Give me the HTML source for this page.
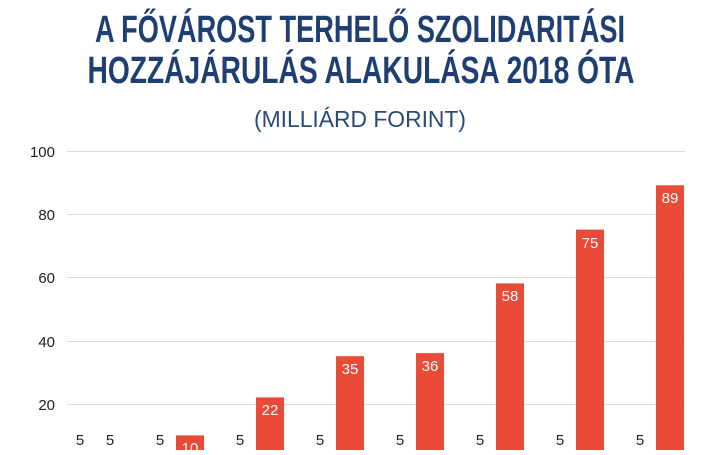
<!DOCTYPE html>
<html><head><meta charset="utf-8"><style>
body{margin:0;width:720px;height:450px;overflow:hidden;background:#fff;font-family:"Liberation Sans",sans-serif}
</style></head><body>
<svg width="720" height="450" xmlns="http://www.w3.org/2000/svg">
<g font-family="Liberation Sans, sans-serif" font-weight="bold" fill="#1f3e72" text-anchor="middle" font-size="38">
<text x="360" y="42" textLength="530" lengthAdjust="spacingAndGlyphs">A FŐVÁROST TERHELŐ SZOLIDARITÁSI</text>
<text x="361" y="83" textLength="547" lengthAdjust="spacingAndGlyphs">HOZZÁJÁRULÁS ALAKULÁSA 2018 ÓTA</text>
</g>
<text x="360" y="127" text-anchor="middle" font-size="23" fill="#2a4a7a" textLength="212" lengthAdjust="spacingAndGlyphs">(MILLIÁRD FORINT)</text>
<g stroke="#dcdcdc" stroke-width="1">
<line x1="67" x2="685" y1="151.5" y2="151.5"/>
<line x1="67" x2="685" y1="214.5" y2="214.5"/>
<line x1="67" x2="685" y1="277.5" y2="277.5"/>
<line x1="67" x2="685" y1="341.5" y2="341.5"/>
<line x1="67" x2="685" y1="404.5" y2="404.5"/>
</g>
<g font-size="15" fill="#222" text-anchor="end">
<text x="55" y="157">100</text><text x="55" y="220">80</text><text x="55" y="283">60</text><text x="55" y="347">40</text><text x="55" y="410">20</text>
</g>
<g fill="#e84b37">
<rect x="176" y="435.4" width="28" height="20"/>
<rect x="256" y="397.4" width="28" height="60"/>
<rect x="336" y="356.2" width="28" height="100"/>
<rect x="416" y="353.1" width="28" height="100"/>
<rect x="496" y="283.4" width="28" height="170"/>
<rect x="576" y="229.6" width="28" height="230"/>
<rect x="656" y="185.3" width="28" height="270"/>
</g>
<g font-size="15" fill="#fff" text-anchor="middle">
<text x="190" y="453">10</text><text x="270" y="415">22</text><text x="350" y="374">35</text><text x="430" y="371">36</text><text x="510" y="301">58</text><text x="590" y="248">75</text><text x="670" y="203">89</text>
</g>
<g font-size="15" fill="#222" text-anchor="middle">
<text x="80" y="445">5</text><text x="110" y="445">5</text><text x="160" y="445">5</text><text x="240" y="445">5</text><text x="320" y="445">5</text><text x="400" y="445">5</text><text x="480" y="445">5</text><text x="560" y="445">5</text><text x="640" y="445">5</text>
</g>
</svg>
</body></html>
